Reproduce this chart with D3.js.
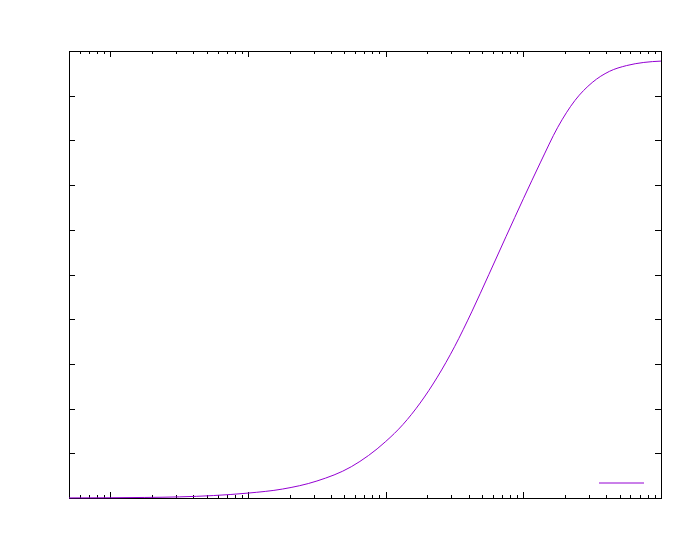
<!DOCTYPE html>
<html>
<head>
<meta charset="utf-8">
<script src="https://cdn.jsdelivr.net/npm/d3@7"></script>
<style>
  html, body { margin: 0; padding: 0; background: #fff; }
  svg { display: block; }
</style>
</head>
<body>
<svg id="chart" width="692" height="554"></svg>
<script>
// ---- data (log-spaced sample points) ----
const xValues = [0.5, 1, 1.778, 3.162, 5.623, 10, 17.78, 31.62, 56.23, 100, 133.4, 177.8, 237.1, 316.2, 421.7, 562.3, 749.9, 1000, 1334, 1778, 2371, 3162, 4217, 5623, 7499, 10000];
const yValues = [0.0002, 0.0006, 0.0012, 0.0025, 0.0055, 0.011, 0.020, 0.038, 0.070, 0.1264, 0.1644, 0.2124, 0.2704, 0.3384, 0.4164, 0.5004, 0.5854, 0.6694, 0.7514, 0.8294, 0.8894, 0.9294, 0.9544, 0.9674, 0.9744, 0.9774];
const xMajorTicks = [1, 10, 100, 1000, 10000];
const xMinorTicks = [0.6, 0.7, 0.8, 0.9,
  2, 3, 4, 5, 6, 7, 8, 9,
  20, 30, 40, 50, 60, 70, 80, 90,
  200, 300, 400, 500, 600, 700, 800, 900,
  2000, 3000, 4000, 5000, 6000, 7000, 8000, 9000];
const yTicks = [0, 0.1, 0.2, 0.3, 0.4, 0.5, 0.6, 0.7, 0.8, 0.9, 1.0];
const seriesColor = "#9400d3";

// ---- layout ----
const plotLeft = 69, plotRight = 661, plotTop = 51, plotBottom = 498;
const svg = d3.select("#chart");

const x = d3.scaleLog().domain([0.5, 10000]).range([plotLeft, plotRight]);
const y = d3.scaleLinear().domain([0, 1]).range([plotBottom, plotTop]);

const noLabel = () => "";

function drawAxis(axisGen, transform, ticks, size) {
  const g = svg.append("g")
    .attr("transform", transform)
    .attr("shape-rendering", "crispEdges")
    .call(axisGen.tickValues(ticks).tickFormat(noLabel).tickSizeInner(-size).tickSizeOuter(0));
  g.select(".domain").remove();
  g.selectAll("line").attr("stroke", "#000").attr("stroke-width", 1);
  g.selectAll("text").remove();
  return g;
}

// bottom / top (major + minor)
drawAxis(d3.axisBottom(x), `translate(0,${plotBottom})`, xMajorTicks, 6);
drawAxis(d3.axisBottom(x), `translate(0,${plotBottom})`, xMinorTicks, 3);
drawAxis(d3.axisTop(x), `translate(0,${plotTop})`, xMajorTicks, 6);
drawAxis(d3.axisTop(x), `translate(0,${plotTop})`, xMinorTicks, 3);
// left / right
drawAxis(d3.axisLeft(y), `translate(${plotLeft},0)`, yTicks, 6);
drawAxis(d3.axisRight(y), `translate(${plotRight},0)`, yTicks, 6);

// border
svg.append("rect")
  .attr("x", plotLeft + 0.5).attr("y", plotTop + 0.5)
  .attr("width", plotRight - plotLeft).attr("height", plotBottom - plotTop)
  .attr("fill", "none").attr("stroke", "#000").attr("stroke-width", 1)
  .attr("shape-rendering", "crispEdges");

// series
const pts = xValues.map((v, i) => [v, yValues[i]]);
const line = d3.line()
  .x(d => x(d[0]))
  .y(d => y(d[1]))
  .curve(d3.curveMonotoneX);

svg.append("path")
  .datum(pts)
  .attr("d", line)
  .attr("fill", "none")
  .attr("stroke", seriesColor)
  .attr("stroke-width", 1);

// legend sample (bottom right, empty title)
svg.append("line")
  .attr("x1", 599).attr("x2", 644)
  .attr("y1", 483).attr("y2", 483)
  .attr("stroke", seriesColor).attr("stroke-width", 1);
</script>
</body>
</html>
